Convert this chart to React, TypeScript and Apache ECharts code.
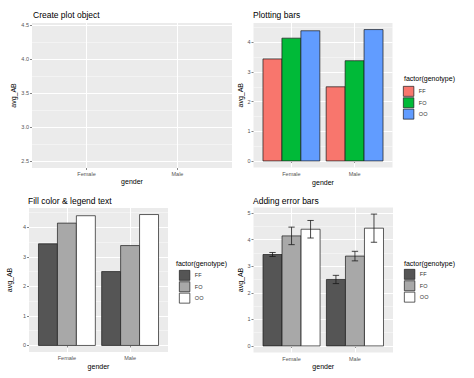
import React, { useEffect, useRef } from 'react';
import * as echarts from 'echarts';

const categories = ['Female', 'Male'];
const genotypes = ['FF', 'FO', 'OO'];
const avgFF = [3.44, 2.5];
const avgFO = [4.14, 3.38];
const avgOO = [4.39, 4.43];
const seFF = [0.075, 0.155];
const seFO = [0.33, 0.18];
const seOO = [0.33, 0.53];
const yTicksEmpty = [2.5, 3.0, 3.5, 4.0, 4.5];
const yTicksBars = [0, 1, 2, 3, 4];
const yTicksErr = [0, 1, 2, 3, 4, 5];
const colourFill = ['#F8766D', '#00BA38', '#619CFF'];
const greyFill = ['#555555', '#A8A8A8', '#FFFFFF'];

const FONT = 'Liberation Sans, Arial, sans-serif';

const avgs = [avgFF, avgFO, avgOO];
const ses = [seFF, seFO, seOO];

function expand(lo: number, hi: number) {
  const d = (hi - lo) * 0.05;
  return [lo - d, hi + d];
}

const allAvg = avgs.flat();
const rangeEmpty = expand(Math.min(...allAvg), Math.max(...allAvg));
const rangeBars = expand(0, Math.max(...allAvg));
const rangeErr = expand(0, Math.max(...avgs.flatMap((a, j) => a.map((v, i) => v + ses[j][i]))));

const xTickVals = categories.map((_, i) => i + 1);

const App: React.FC = () => {
  const ref = useRef<HTMLDivElement>(null);

  useEffect(() => {
    if (!ref.current) return;
    const chart = echarts.init(ref.current, undefined, { renderer: 'svg' });

    const grids = [
      { left: 32, top: 23, width: 200, height: 145 },
      { left: 253.5, top: 23, width: 139, height: 144.5 },
      { left: 29, top: 208, width: 139, height: 144 },
      { left: 253.5, top: 207.5, width: 139.5, height: 145 },
    ].map((g) => ({ ...g, show: true, backgroundColor: '#EBEBEB', borderWidth: 0, containLabel: false }));

    const yRanges = [rangeEmpty, rangeBars, rangeBars, rangeErr];
    const yTicks = [yTicksEmpty, yTicksBars, yTicksBars, yTicksErr];
    const yNameGaps = [13.5, 8, 16, 7];
    const xNameGaps = [9.5, 11, 10.5, 10];

    const tickLabelStyle = { fontSize: 5.5, color: '#555', fontFamily: FONT };
    const axisNameStyle = { fontSize: 7, color: '#000', fontFamily: FONT };

    const xAxis = grids.map((_, g) => ({
      type: 'value',
      gridIndex: g,
      min: 0.4,
      max: categories.length + 0.6,
      name: 'gender',
      nameLocation: 'middle',
      nameGap: xNameGaps[g],
      nameTextStyle: axisNameStyle,
      axisLine: { show: false },
      axisTick: { show: true, length: 2, customValues: xTickVals, lineStyle: { color: '#333', width: 0.6 } },
      axisLabel: {
        customValues: xTickVals,
        margin: 3,
        ...tickLabelStyle,
        formatter: (v: number) => categories[Math.round(v) - 1] ?? '',
      },
      splitLine: { show: true, lineStyle: { color: '#FFFFFF', width: 1.1 } },
    }));

    const yAxis: any[] = [];
    grids.forEach((_, g) => {
      const ticks = yTicks[g];
      const step = ticks[1] - ticks[0];
      const minor: number[] = [];
      for (let i = 0; i <= ticks.length; i++) {
        const m = ticks[0] + (i - 0.5) * step;
        if (m > yRanges[g][0] && m < yRanges[g][1]) minor.push(Math.round(m * 1000) / 1000);
      }
      yAxis.push({
        type: 'value',
        gridIndex: g,
        min: yRanges[g][0],
        max: yRanges[g][1],
        name: 'avg_AB',
        nameLocation: 'middle',
        nameGap: yNameGaps[g],
        nameRotate: 90,
        nameTextStyle: axisNameStyle,
        axisLine: { show: false },
        axisTick: { show: true, length: 2, customValues: ticks, lineStyle: { color: '#333', width: 0.6 } },
        axisLabel: {
          customValues: ticks,
          margin: 3,
          ...tickLabelStyle,
          formatter: (v: number) => (g === 0 ? v.toFixed(1) : String(Math.round(v))),
        },
        splitLine: { show: true, lineStyle: { color: '#FFFFFF', width: 1.1 } },
        z: 1,
      });
      yAxis.push({
        type: 'value',
        gridIndex: g,
        position: 'left',
        min: yRanges[g][0],
        max: yRanges[g][1],
        axisLine: { show: false },
        axisTick: { show: false, customValues: minor },
        axisLabel: { show: false, customValues: minor },
        splitLine: { show: true, lineStyle: { color: '#FFFFFF', width: 0.5, opacity: 0.85 } },
        z: 0,
      });
    });

    const makeBars = (panel: number, fills: string[], withErr: boolean, suffix: string) =>
      genotypes.map((gname, j) => ({
        type: 'custom',
        name: gname + suffix,
        xAxisIndex: panel,
        yAxisIndex: panel * 2,
        itemStyle: { color: fills[j], borderColor: '#1A1A1A', borderWidth: 0.7 },
        data: avgs[j].map((v, i) => [i + 1, v, withErr ? ses[j][i] : 0]),
        renderItem: (params: any, api: any) => {
          const x = api.value(0) + (j - 1) * 0.3;
          const v = api.value(1);
          const p0 = api.coord([x - 0.15, v]);
          const p1 = api.coord([x + 0.15, 0]);
          const children: any[] = [
            {
              type: 'rect',
              shape: { x: p0[0], y: p0[1], width: p1[0] - p0[0], height: p1[1] - p0[1] },
              style: { fill: fills[j], stroke: '#1A1A1A', lineWidth: 0.7 },
            },
          ];
          if (withErr) {
            const e = api.value(2);
            const top = api.coord([x, v + e]);
            const bot = api.coord([x, v - e]);
            const cl = api.coord([x - 0.05, v + e]);
            const cr = api.coord([x + 0.05, v + e]);
            const bl = api.coord([x - 0.05, v - e]);
            const br = api.coord([x + 0.05, v - e]);
            const ls = { stroke: '#1A1A1A', lineWidth: 0.8 };
            children.push(
              { type: 'line', shape: { x1: top[0], y1: top[1], x2: bot[0], y2: bot[1] }, style: ls },
              { type: 'line', shape: { x1: cl[0], y1: cl[1], x2: cr[0], y2: cr[1] }, style: ls },
              { type: 'line', shape: { x1: bl[0], y1: bl[1], x2: br[0], y2: br[1] }, style: ls }
            );
          }
          return { type: 'group', children };
        },
      }));

    const series = [
      ...makeBars(1, colourFill, false, ''),
      ...makeBars(2, greyFill, false, '#3'),
      ...makeBars(3, greyFill, true, '#4'),
    ];

    const mkLegend = (left: number, top: number, fills: string[], suffix: string) => ({
      left,
      top,
      orient: 'vertical',
      icon: 'rect',
      itemWidth: 10.5,
      itemHeight: 10,
      itemGap: 0.7,
      padding: 0,
      selectedMode: false,
      formatter: (n: string) => n.split('#')[0],
      textStyle: { fontSize: 5.5, color: '#333', fontFamily: FONT },
      data: genotypes.map((gname, j) => ({
        name: gname + suffix,
        itemStyle: { color: fills[j], borderColor: '#1A1A1A', borderWidth: 0.7 },
      })),
    });

    const titleStyle = { fontSize: 8.5, fontWeight: 'normal', color: '#000', fontFamily: FONT };
    const legTitleStyle = { fontSize: 7, fontWeight: 'normal', color: '#000', fontFamily: FONT };

    chart.setOption({
      animation: false,
      textStyle: { fontFamily: FONT },
      title: [
        { text: 'Create plot object', left: 33, top: 10.5, padding: 0, textStyle: titleStyle },
        { text: 'Plotting bars', left: 253, top: 10.5, padding: 0, textStyle: titleStyle },
        { text: 'Fill color & legend text', left: 28, top: 196.5, padding: 0, textStyle: titleStyle },
        { text: 'Adding error bars', left: 253, top: 196.5, padding: 0, textStyle: titleStyle },
        { text: 'factor(genotype)', left: 404, top: 74.5, padding: 0, textStyle: legTitleStyle },
        { text: 'factor(genotype)', left: 176, top: 260, padding: 0, textStyle: legTitleStyle },
        { text: 'factor(genotype)', left: 404, top: 260, padding: 0, textStyle: legTitleStyle },
      ],
      legend: [
        mkLegend(403, 86, colourFill, ''),
        mkLegend(179, 270, greyFill, '#3'),
        mkLegend(404, 269, greyFill, '#4'),
      ],
      grid: grids,
      xAxis,
      yAxis,
      series,
    });

    return () => chart.dispose();
  }, []);

  return (
    <div
      ref={ref}
      style={{ position: 'absolute', left: 0, top: 0, width: 474, height: 378, background: '#fff' }}
    />
  );
};

export default App;
